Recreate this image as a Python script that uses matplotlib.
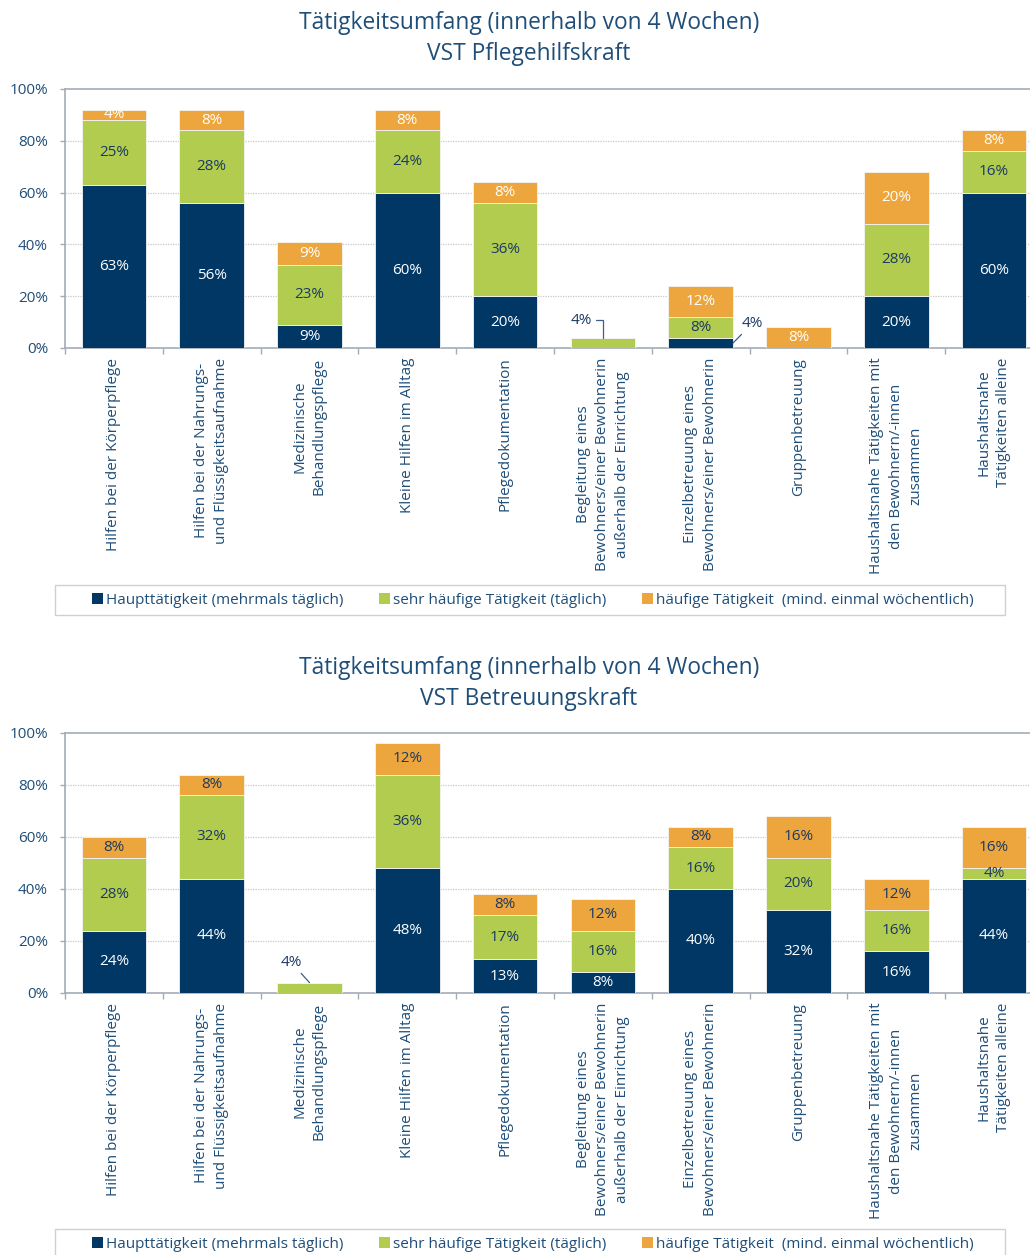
import matplotlib
matplotlib.use("Agg")
import matplotlib.pyplot as plt
from matplotlib.patches import Patch, Rectangle
import numpy as np

plt.rcParams['font.family'] = ['Open Sans', 'DejaVu Sans']

W, H = 1030, 1255

categories = [
    "Hilfen bei der Körperpflege",
    "Hilfen bei der Nahrungs-\nund Flüssigkeitsaufnahme",
    "Medizinische\nBehandlungspflege",
    "Kleine Hilfen im Alltag",
    "Pflegedokumentation",
    "Begleitung eines\nBewohners/einer Bewohnerin\naußerhalb der Einrichtung",
    "Einzelbetreuung eines\nBewohners/einer Bewohnerin",
    "Gruppenbetreuung",
    "Haushaltsnahe Tätigkeiten mit\nden Bewohnern/-innen\nzusammen",
    "Haushaltsnahe\nTätigkeiten alleine",
]

series_names = [
    "Haupttätigkeit (mehrmals täglich)",
    "sehr häufige Tätigkeit (täglich)",
    "häufige Tätigkeit  (mind. einmal wöchentlich)",
]

# Chart 1: VST Pflegehilfskraft
pflege_haupt = [63, 56, 9, 60, 20, 0, 4, 0, 20, 60]
pflege_sehr = [25, 28, 23, 24, 36, 4, 8, 0, 28, 16]
pflege_haeufig = [4, 8, 9, 8, 8, 0, 12, 8, 20, 8]

# Chart 2: VST Betreuungskraft
betreu_haupt = [24, 44, 0, 48, 13, 8, 40, 32, 16, 44]
betreu_sehr = [28, 32, 4, 36, 17, 16, 16, 20, 16, 4]
betreu_haeufig = [8, 8, 0, 12, 8, 12, 8, 16, 12, 16]

yticks = [0, 20, 40, 60, 80, 100]

colors = ['#003764', '#B2CC4F', '#EDA63D']
title_color = '#1F4E79'
text_dark = '#1B3A63'
spine_color = '#A3ABB8'

fig = plt.figure(figsize=(W / 100, H / 100), dpi=100)


def rect(left, top, width, height):
    return [left / W, 1 - (top + height) / H, width / W, height / H]


def draw_chart(ax, data, label_colors, outside):
    x = np.arange(len(categories))
    bottom = np.zeros(len(categories))
    for si, vals in enumerate(data):
        vals = np.array(vals, dtype=float)
        ax.bar(x, vals, 0.66, bottom=bottom, color=colors[si],
               edgecolor='#F4F4F4', linewidth=0.6, zorder=3)
        for ci, v in enumerate(vals):
            if v <= 0:
                continue
            txt = f"{int(round(v))}%"
            key = (ci, si)
            if key in outside:
                tx, ty, xy, cs = outside[key]
                ax.annotate(txt, xy=xy, xytext=(tx, ty), ha='center', va='center',
                            fontsize=11, color=text_dark, zorder=5,
                            arrowprops=dict(arrowstyle='-', color='#3E5F86', lw=0.9,
                                            connectionstyle=cs, shrinkA=1, shrinkB=0))
            else:
                ax.text(ci, bottom[ci] + v / 2, txt, ha='center', va='center',
                        fontsize=11, color=label_colors[si], zorder=5)
        bottom = bottom + vals

    ax.set_xlim(-0.5, len(categories) - 0.5)
    ax.set_ylim(0, 100)
    ax.set_yticks(yticks)
    ax.set_yticklabels([f"{t}%" for t in yticks])
    ax.set_xticks(x)
    ax.set_xticklabels(categories, rotation=90, fontsize=11, color=title_color,
                       linespacing=1.42)
    for lab in ax.get_xticklabels():
        lab.set_multialignment('center')
    ax.set_xticks(np.arange(-0.5, len(categories), 1.0), minor=True)
    ax.tick_params(axis='x', which='major', length=0, pad=7)
    ax.tick_params(axis='x', which='minor', length=4, width=1, color=spine_color,
                   direction='out')
    ax.tick_params(axis='y', length=3.6, width=1, color=spine_color, pad=8.6,
                   labelsize=11, labelcolor=title_color)
    for g in yticks[1:-1]:
        ax.axhline(g, color='#C8C8C8', lw=0.9, ls=(0, (1, 1)), zorder=1)
    for s in ['left', 'bottom', 'top']:
        ax.spines[s].set_color(spine_color)
        ax.spines[s].set_linewidth(1.2)
    ax.spines['right'].set_visible(False)


def add_titles(y1, y2, sub):
    fig.text(529 / W, 1 - y1 / H, "Tätigkeitsumfang (innerhalb von 4 Wochen)",
             ha='center', va='center', fontsize=16.4, color=title_color)
    fig.text(529 / W, 1 - y2 / H, sub, ha='center', va='center', fontsize=16.4,
             color=title_color)


def add_legend(top):
    fig.add_artist(Rectangle((55 / W, 1 - (top + 30) / H), 950 / W, 30 / H,
                             transform=fig.transFigure, facecolor='none',
                             edgecolor='#D0D0D0', lw=1))
    handles = [Patch(facecolor=c, edgecolor='none') for c in colors]
    fig.legend(handles, series_names, loc='center', ncol=3,
               bbox_to_anchor=(533 / W, 1 - (top + 15) / H), fontsize=11,
               frameon=False, handlelength=0.72, handleheight=0.72,
               handletextpad=0.2, columnspacing=2.35, borderpad=0.3,
               labelcolor=title_color)


# top chart
ax1 = fig.add_axes(rect(65, 89, 978, 259))
draw_chart(ax1, [pflege_haupt, pflege_sehr, pflege_haeufig],
           ['white', text_dark, 'white'],
           {(5, 1): (4.78, 10.8, (5.0, 4.0), 'angle,angleA=0,angleB=90,rad=0'),
            (6, 0): (6.53, 9.6, (6.33, 1.9), 'arc3')})
add_titles(23, 54, "VST Pflegehilfskraft")
add_legend(585)

# bottom chart
ax2 = fig.add_axes(rect(65, 733, 978, 260))
draw_chart(ax2, [betreu_haupt, betreu_sehr, betreu_haeufig],
           ['white', text_dark, text_dark],
           {(2, 1): (1.81, 11.9, (2.0, 4.0), 'arc3')})
add_titles(668, 699, "VST Betreuungskraft")
add_legend(1229)

fig.savefig("out.png", dpi=100)
